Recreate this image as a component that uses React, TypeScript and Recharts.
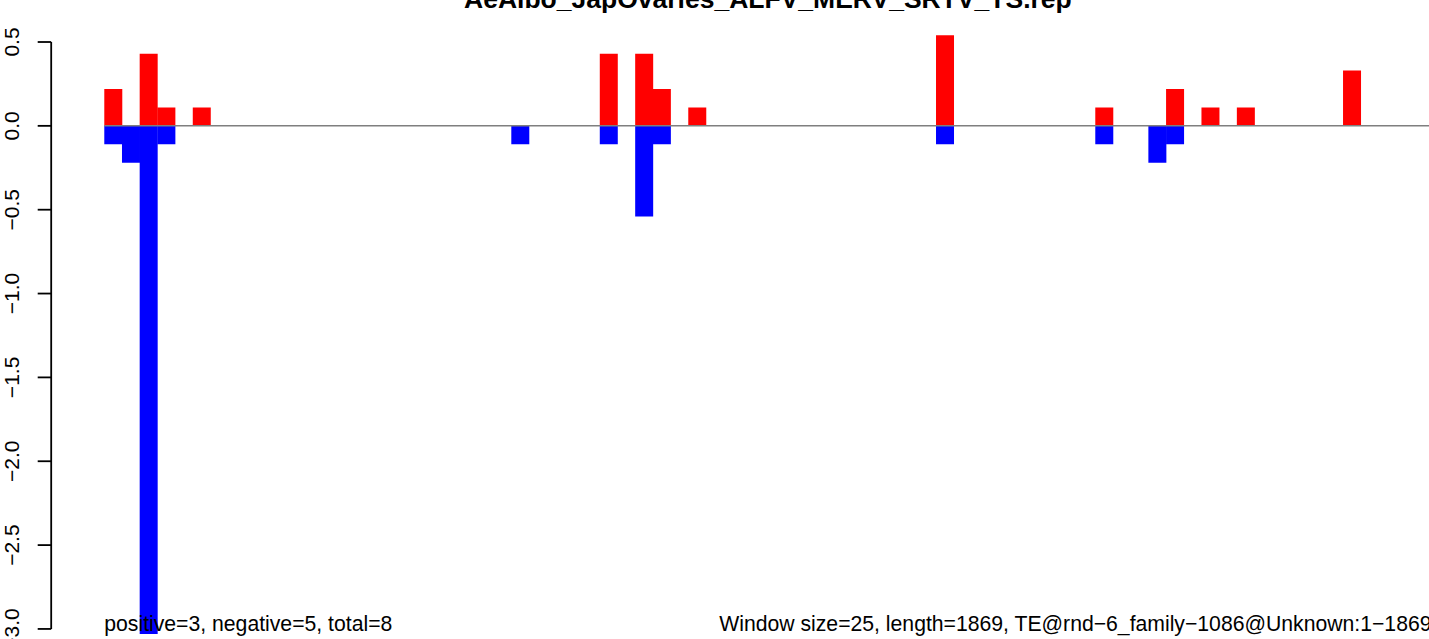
import React from 'react';
import { BarChart, Bar, XAxis, YAxis, ReferenceLine } from 'recharts';

// windows of the TE consensus, 25 bp each
const windowCount = 75;
const positiveWindows = [0, 2, 3, 5, 28, 30, 31, 33, 47, 56, 60, 62, 64, 70];
const positiveValues = [0.22, 0.43, 0.11, 0.11, 0.43, 0.43, 0.22, 0.11, 0.54, 0.11, 0.22, 0.11, 0.11, 0.33];
const negativeWindows = [0, 1, 2, 3, 23, 28, 30, 31, 47, 56, 59, 60];
const negativeValues = [-0.11, -0.22, -3.03, -0.11, -0.11, -0.11, -0.54, -0.11, -0.11, -0.11, -0.22, -0.11];
const yTicks = [-3, -2.5, -2, -1.5, -1, -0.5, 0, 0.5];

const title = 'AeAlbo_JapOvaries_ALFV_MERV_SRTV_TS.rep';
const leftNote = 'positive=3, negative=5, total=8';
const rightNote = 'Window size=25, length=1869, TE@rnd\u22126_family\u22121086@Unknown:1\u22121869';

const data = Array.from({ length: windowCount }, (_, i) => {
  const p = positiveWindows.indexOf(i);
  const n = negativeWindows.indexOf(i);
  return {
    mid: i + 0.5,
    pos: p >= 0 ? positiveValues[p] : 0,
    neg: n >= 0 ? negativeValues[n] : 0,
  };
});

const FONT = '"Liberation Sans", Arial, Helvetica, sans-serif';
const CHART_W = 1500;
const CHART_H = 679.25;
const AXIS_W = 51.2;
const MARGIN_R = 15.4;
const X_MIN = -3;
const X_MAX = 78;
const UNIT = (CHART_W - AXIS_W - MARGIN_R) / (X_MAX - X_MIN);
const toPx = (v: number) => AXIS_W + (v - X_MIN) * UNIT;

const fmt = (v: number) => v.toFixed(1).replace('-', '\u2212');

const YTick = (props: any) => {
  const { y, payload } = props;
  return (
    <text
      x={18.7}
      y={y}
      transform={`rotate(-90, 18.7, ${y})`}
      textAnchor="middle"
      fontFamily={FONT}
      fontSize={21}
      fill="#000"
    >
      {fmt(payload.value)}
    </text>
  );
};

export default function App() {
  return (
    <div
      style={{
        position: 'absolute',
        left: 0,
        top: 0,
        width: 1429,
        height: 639,
        overflow: 'hidden',
        background: '#fff',
      }}
    >
      <BarChart
        width={CHART_W}
        height={CHART_H}
        data={data}
        margin={{ top: 16.85, right: MARGIN_R, bottom: 0, left: 0 }}
        barCategoryGap={0}
        barGap={0}
        stackOffset="sign"
      >
        <XAxis type="number" dataKey="mid" domain={[X_MIN, X_MAX]} hide allowDataOverflow />
        <YAxis
          type="number"
          domain={[-3.3, 0.65]}
          ticks={yTicks}
          interval={0}
          width={AXIS_W}
          axisLine={false}
          tickLine={{ stroke: '#000', strokeWidth: 1.8 }}
          tickSize={13.5}
          tick={<YTick />}
          allowDataOverflow
        />
        <ReferenceLine
          segment={[{ x: 0, y: 0 }, { x: X_MAX, y: 0 }]}
          stroke="#7f7f7f"
          strokeWidth={1.5}
        />
        <Bar dataKey="pos" stackId="s" fill="#ff0000" isAnimationActive={false} />
        <Bar dataKey="neg" stackId="s" fill="#0000ff" isAnimationActive={false} />
        <ReferenceLine
          segment={[{ x: X_MIN, y: -3 }, { x: X_MIN, y: 0.5 }]}
          stroke="#000"
          strokeWidth={1.8}
        />
      </BarChart>
      <svg
        width={1429}
        height={639}
        style={{ position: 'absolute', left: 0, top: 0, pointerEvents: 'none' }}
      >
        <text
          x={toPx((X_MIN + X_MAX) / 2)}
          y={7.8}
          textAnchor="middle"
          fontFamily={FONT}
          fontWeight="bold"
          fontSize={26.5}
          fill="#000"
        >
          {title}
        </text>
        <text x={toPx(0)} y={631} fontFamily={FONT} fontSize={21.2} fill="#000">
          {leftNote}
        </text>
        <text
          x={toPx(windowCount)}
          y={631}
          textAnchor="end"
          fontFamily={FONT}
          fontSize={21.2}
          fill="#000"
        >
          {rightNote}
        </text>
      </svg>
    </div>
  );
}
